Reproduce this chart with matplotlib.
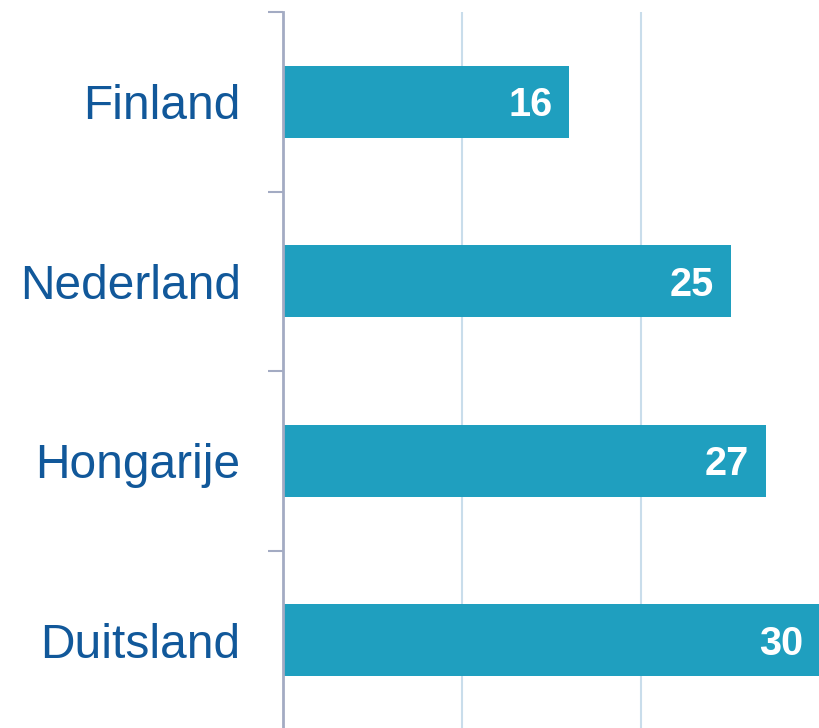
import matplotlib.pyplot as plt
import numpy as np

countries = ["Finland", "Nederland", "Hongarije", "Duitsland"]
values = [16, 25, 27, 30]

plt.rcParams['font.family'] = ['Liberation Sans', 'DejaVu Sans']

fig = plt.figure(figsize=(8.19, 7.28), dpi=100)
ax = fig.add_axes([283 / 819, -2 / 728, 537 / 819, 718 / 728])

y = np.arange(len(countries))
ax.barh(y, values, height=0.4, color="#1F9FBF", zorder=3)

for yi, v in zip(y, values):
    ax.text(v - 0.95, yi + 0.08, str(v), ha="right", va="baseline",
            color="white", fontsize=28.5, fontweight="bold", zorder=4)

ax.set_xlim(0, 30)
ax.set_ylim(3.5, -0.5)

ax.set_xticks([10, 20])
ax.xaxis.grid(True, color="#C9DDEB", linewidth=1.5)
ax.tick_params(axis="x", length=0, labelbottom=False)

# tick marks on band boundaries, labels in band centres
ax.set_yticks(np.arange(-0.5, 4, 1))
ax.set_yticklabels([])
ax.tick_params(axis="y", which="major", length=11, width=1.5, color="#A3ABC3")
ax.set_yticks(y, minor=True)
ax.set_yticklabels(countries, minor=True)
ax.tick_params(axis="y", which="minor", length=0, pad=30.5, labelsize=34.5,
               labelcolor="#11589A")
for lbl in ax.get_yticklabels(minor=True):
    lbl.set_va("center_baseline")

for s in ["top", "right", "bottom"]:
    ax.spines[s].set_visible(False)
ax.spines["left"].set_color("#A3ABC3")
ax.spines["left"].set_linewidth(2)
ax.spines["left"].set_zorder(5)

fig.savefig("out.png", dpi=100)
